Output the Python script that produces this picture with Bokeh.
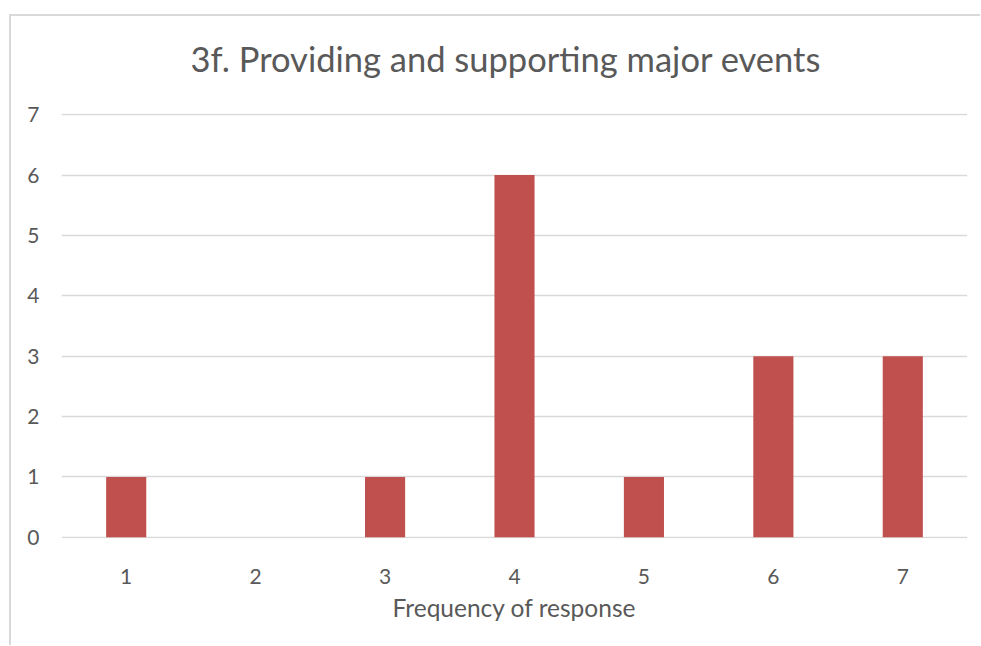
from bokeh.plotting import figure
from bokeh.models import FactorRange, Range1d, FixedTicker, ColumnDataSource
from bokeh.embed import file_html
from bokeh.resources import INLINE

categories = ["1", "2", "3", "4", "5", "6", "7"]
counts = [1, 0, 1, 6, 1, 3, 3]
y_ticks = [0, 1, 2, 3, 4, 5, 6, 7]

TEXT = "#595959"
GRID = "#D9D9D9"
BAR = "#C0504D"
FONT = "Lato"

src = ColumnDataSource(data=dict(cat=categories, n=counts))

# light-gray chart-area frame (top and left edges) painted behind a transparent canvas
frame_bg = ("linear-gradient(#D9D9D9, #D9D9D9) 9px 14px / 2px 100% no-repeat, "
            "linear-gradient(#D9D9D9, #D9D9D9) 9px 14px / 100% 2px no-repeat, white")

p = figure(
    x_range=FactorRange(*categories, range_padding=0),
    y_range=Range1d(-0.02, 7.02),
    width=980, height=645,
    frame_width=906, frame_height=425,
    min_border_left=61, min_border_right=13,
    min_border_top=113, min_border_bottom=107,
    output_backend="svg", toolbar_location=None,
    title="3f. Providing and supporting major events",
    styles={"background": frame_bg},
)

p.vbar(x="cat", top="n", width=0.31, source=src, fill_color=BAR, line_color=None)

p.title.align = "left"
p.title.offset = 129
p.title.text_font = FONT
p.title.text_font_size = "34.5px"
p.title.text_font_style = "normal"
p.title.text_color = TEXT
p.title.standoff = 69

p.outline_line_color = None
p.background_fill_color = "white"
p.border_fill_color = None

p.xgrid.grid_line_color = None
p.ygrid.grid_line_color = GRID
p.ygrid.grid_line_width = 1.5
p.yaxis.ticker = FixedTicker(ticks=y_ticks)

for ax in (p.xaxis[0], p.yaxis[0]):
    ax.axis_line_color = None
    ax.major_tick_line_color = None
    ax.minor_tick_line_color = None
    ax.major_tick_out = 0
    ax.major_tick_in = 0
    ax.major_label_text_font = FONT
    ax.major_label_text_font_size = "21px"
    ax.major_label_text_color = TEXT

p.yaxis.major_label_standoff = 22
p.xaxis.major_label_standoff = 30
p.xaxis.axis_label = "Frequency of response"
p.xaxis.axis_label_text_font = FONT
p.xaxis.axis_label_text_font_size = "24.5px"
p.xaxis.axis_label_text_font_style = "normal"
p.xaxis.axis_label_text_color = TEXT
p.xaxis.axis_label_standoff = 6

open("out.html", "w").write(file_html(p, INLINE))
